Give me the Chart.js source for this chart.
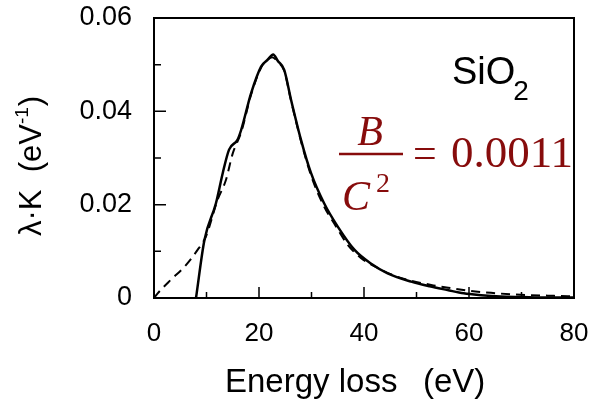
<!DOCTYPE html>
<html lang="en">
<head>
  <meta charset="UTF-8" />
  <title>SiO2 energy loss</title>
  <script src="https://cdn.jsdelivr.net/npm/chart.js"></script>
  <style>
    html, body { margin: 0; padding: 0; background: #fff; }
    #wrap { width: 591px; height: 402px; }
  </style>
</head>
<body>
  <div id="wrap"><canvas id="lossChart" width="591" height="402"></canvas></div>

  <script>
    // measured curve (solid)
    const measuredE = [8.0, 9.6, 11.8, 13.1, 14.3, 15.9, 16.6, 18.5, 20.4, 21.6, 22.7, 23.6, 24.8, 26.1, 28.0, 29.9, 32.4, 35.0, 38.2, 41.3, 44.5, 49.0, 52.5, 55.9, 59.0, 62.3, 66, 70, 75, 80];
    const measuredK = [0, 0.0124, 0.0203, 0.0268, 0.0318, 0.0339, 0.036, 0.0439, 0.0496, 0.0510, 0.0522, 0.0508, 0.0489, 0.0425, 0.0339, 0.0268, 0.0203, 0.0153, 0.0103, 0.0074, 0.0053, 0.0035, 0.0025, 0.0017, 0.0010, 0.0006, 0.0003, 0.0002, 0.0001, 0.0001];

    // fitted curve (dashed)
    const fitE = [0, 0.7, 3.2, 5.8, 8.3, 9.9, 12.1, 13.7, 15.0, 16.6, 18.5, 20.4, 21.6, 22.5, 23.6, 24.8, 26.1, 28.0, 29.9, 32.4, 34.3, 36.9, 39.4, 43, 47, 52.8, 56.6, 60.4, 64.2, 68, 71.8, 75, 78.8, 80];
    const fitK = [0, 0.001, 0.0039, 0.0067, 0.0103, 0.0132, 0.021, 0.0253, 0.031, 0.0355, 0.0436, 0.0494, 0.0510, 0.0516, 0.0506, 0.0487, 0.0423, 0.0336, 0.0263, 0.0196, 0.0160, 0.0114, 0.0086, 0.0062, 0.0043, 0.0028, 0.0021, 0.0015, 0.0011, 0.0008, 0.0006, 0.0005, 0.0004, 0.0004];

    const xMajorTicks = [0, 20, 40, 60, 80];
    const xMinorTicks = [10, 30, 50, 70];
    const yMajorTicks = [0, 0.02, 0.04, 0.06];
    const yMinorTicks = [0.01, 0.03, 0.05];

    const SANS = "'Liberation Sans', Arial, sans-serif";
    const SERIF = "'Liberation Serif', 'Times New Roman', serif";
    const RED = '#870c0c';

    const toPts = (xs, ys) => xs.map((x, i) => ({ x: x, y: ys[i] }));

    // frame, inward ticks, titles and annotation
    const decor = {
      id: 'decor',
      afterDraw(chart) {
        const ctx = chart.ctx;
        const a = chart.chartArea;
        const xs = chart.scales.x, ys = chart.scales.y;
        ctx.save();
        ctx.strokeStyle = '#000';
        ctx.lineWidth = 2;
        ctx.strokeRect(a.left, a.top, a.right - a.left, a.bottom - a.top);

        ctx.lineWidth = 1.5;
        ctx.beginPath();
        xMajorTicks.concat(xMinorTicks).forEach(v => {
          const px = xs.getPixelForValue(v);
          const len = xMajorTicks.includes(v) ? 11 : 6;
          ctx.moveTo(px, a.bottom); ctx.lineTo(px, a.bottom - len);
        });
        yMajorTicks.concat(yMinorTicks).forEach(v => {
          const py = ys.getPixelForValue(v);
          const len = yMajorTicks.includes(v) ? 12 : 7;
          ctx.moveTo(a.left, py); ctx.lineTo(a.left + len, py);
        });
        ctx.stroke();

        // x axis title
        ctx.fillStyle = '#000';
        ctx.textBaseline = 'alphabetic';
        ctx.textAlign = 'left';
        ctx.font = '33px ' + SANS;
        ctx.fillText('Energy loss', 225, 392);
        ctx.fillText('(eV)', 423, 392);

        // y axis title (rotated)
        ctx.save();
        ctx.translate(41, 236);
        ctx.rotate(-Math.PI / 2);
        let cx = 0;
        ctx.font = '31px ' + SANS;
        const part1 = '\u03bb\u00b7K  (eV';
        ctx.fillText(part1, cx, 0);
        cx += ctx.measureText(part1).width;
        ctx.font = '19px ' + SANS;
        ctx.fillText('-1', cx, -13);
        cx += ctx.measureText('-1').width + 1;
        ctx.font = '31px ' + SANS;
        ctx.fillText(')', cx, 0);
        ctx.restore();

        // SiO2 label
        ctx.font = '38px ' + SANS;
        ctx.fillText('SiO', 452, 84);
        const w = ctx.measureText('SiO').width;
        ctx.font = '28px ' + SANS;
        ctx.fillText('2', 452 + w - 2, 100);

        // B / C^2 = 0.0011
        ctx.fillStyle = RED;
        ctx.strokeStyle = RED;
        ctx.font = 'italic 42px ' + SERIF;
        ctx.textAlign = 'center';
        ctx.fillText('B', 370, 145);
        ctx.textAlign = 'left';
        ctx.fillText('C', 342, 210);
        ctx.font = '28px ' + SERIF;
        ctx.fillText('2', 376, 192);
        ctx.lineWidth = 2.5;
        ctx.beginPath();
        ctx.moveTo(339, 154); ctx.lineTo(403, 154);
        ctx.stroke();
        ctx.font = '42px ' + SERIF;
        ctx.fillText('=', 413, 167);
        ctx.font = '45px ' + SERIF;
        ctx.fillText('0.0011', 451, 167);
        ctx.restore();
      }
    };

    new Chart(document.getElementById('lossChart'), {
      type: 'scatter',
      data: {
        datasets: [
          {
            label: 'measured',
            data: toPts(measuredE, measuredK),
            showLine: true,
            borderColor: '#000',
            borderWidth: 2.5,
            pointRadius: 0,
            cubicInterpolationMode: 'monotone'
          },
          {
            label: 'fit',
            data: toPts(fitE, fitK),
            showLine: true,
            borderColor: '#000',
            borderWidth: 2,
            borderDash: [9, 6],
            pointRadius: 0,
            cubicInterpolationMode: 'monotone'
          }
        ]
      },
      options: {
        responsive: false,
        animation: false,
        layout: { padding: { top: 18, right: 17, left: 0, bottom: 0 } },
        plugins: { legend: { display: false }, tooltip: { enabled: false } },
        scales: {
          x: {
            type: 'linear', min: 0, max: 80,
            afterBuildTicks: s => { s.ticks = xMajorTicks.map(v => ({ value: v })); },
            afterFit: s => { s.height = 104; s.paddingLeft = 0; s.paddingRight = 0; },
            grid: { display: false, drawTicks: false },
            border: { display: false },
            ticks: { color: '#000', padding: 20, maxRotation: 0, font: { family: SANS, size: 26 } }
          },
          y: {
            type: 'linear', min: 0, max: 0.06,
            afterBuildTicks: s => { s.ticks = yMajorTicks.map(v => ({ value: v })); },
            afterFit: s => { s.width = 154; s.paddingTop = 0; s.paddingBottom = 0; },
            grid: { display: false, drawTicks: false },
            border: { display: false },
            ticks: {
              color: '#000', padding: 22, font: { family: SANS, size: 27 },
              callback: v => (v === 0 ? '0' : v.toFixed(2))
            }
          }
        }
      },
      plugins: [decor]
    });
  </script>
</body>
</html>
